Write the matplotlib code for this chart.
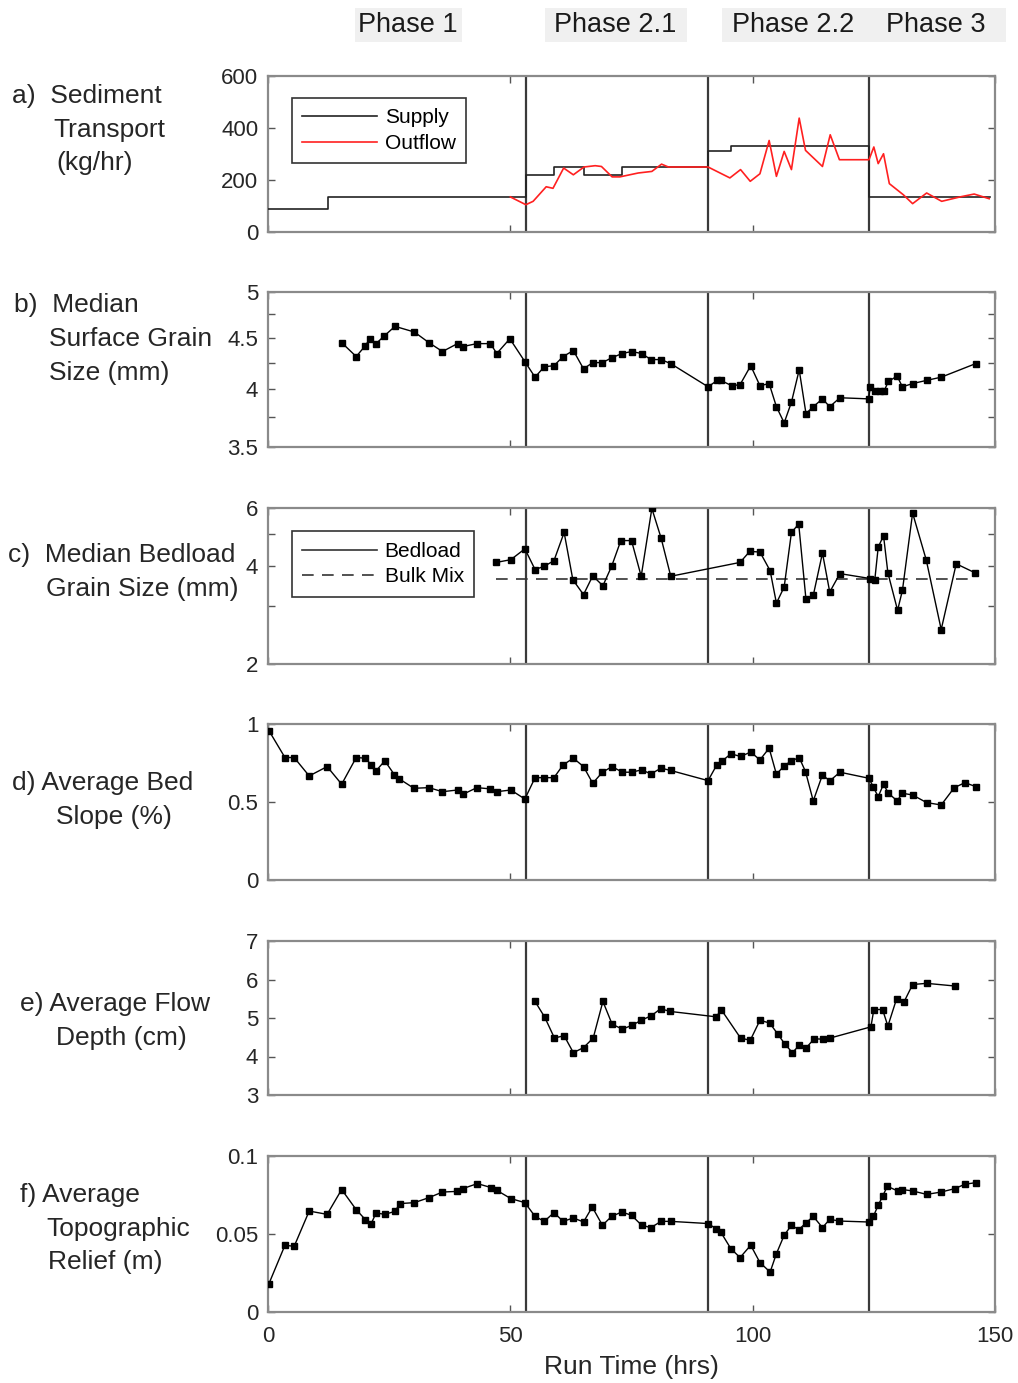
import matplotlib
matplotlib.use('Agg')
import matplotlib.pyplot as plt
from matplotlib.lines import Line2D
from matplotlib.patches import Rectangle
from matplotlib.ticker import FixedLocator, FixedFormatter, NullFormatter

plt.rcParams['font.family'] = ['Liberation Sans', 'DejaVu Sans']

# phase boundaries (hrs)
phase_bounds = [53.2, 90.8, 124.0]
phase_names = ['Phase 1', 'Phase 2.1', 'Phase 2.2', 'Phase 3']

# a) sediment transport
supply_t = [0, 12.3, 53.2, 59.1, 65.1, 73.1, 90.8, 95.5, 124.0, 149.0]
supply_v = [90, 135, 220, 250, 220, 250, 310, 330, 135, 135]
out_t = [50.0, 53.2, 54.7, 57.4, 58.8, 61.0, 63.0, 65.2, 67.5, 68.8,
         71.0, 72.6, 76.4, 79.2, 81.2, 82.6, 90.8, 95.3, 97.5, 99.5,
         101.5, 103.4, 104.9, 106.5, 108.0, 109.6, 110.9, 114.4, 116.0, 117.9,
         124.0, 125.0, 125.9, 127.0, 128.2, 131.1, 133.0, 135.9, 139.0, 142.8,
         145.7, 148.8]
out_v = [135, 105, 118, 174, 168, 246, 220, 250, 255, 252,
         212, 212, 227, 233, 261, 250, 250, 208, 240, 195,
         224, 352, 214, 310, 240, 438, 314, 252, 374, 278,
         278, 327, 263, 301, 186, 143, 109, 150, 118, 135,
         146, 128]

# b) median surface grain size
b_t = [15.2, 18.2, 20.1, 21.0, 22.3, 24.0, 26.2, 30.2, 33.2, 36.0,
       39.1, 40.2, 43.1, 45.9, 47.2, 49.9, 53.0, 55.1, 57.0, 59.0,
       60.9, 63.0, 65.1, 67.0, 69.0, 71.0, 73.1, 75.0, 77.1, 79.0,
       81.1, 83.1, 90.8, 92.7, 93.4, 95.7, 97.4, 99.6, 101.5, 103.4,
       104.9, 106.5, 108.0, 109.6, 111.0, 112.5, 114.4, 115.9, 118.0, 123.9,
       124.3, 125.2, 126.3, 127.1, 128.0, 129.8, 130.9, 133.0, 135.9, 138.9,
       146.0]
b_v = [4.45, 4.31, 4.42, 4.49, 4.44, 4.52, 4.62, 4.56, 4.45, 4.36,
       4.44, 4.41, 4.44, 4.44, 4.34, 4.49, 4.26, 4.11, 4.21, 4.22,
       4.31, 4.37, 4.19, 4.25, 4.25, 4.30, 4.34, 4.36, 4.34, 4.28,
       4.28, 4.24, 4.02, 4.08, 4.08, 4.03, 4.04, 4.22, 4.03, 4.05,
       3.84, 3.70, 3.88, 4.18, 3.78, 3.84, 3.91, 3.84, 3.92, 3.91,
       4.02, 3.98, 3.98, 3.98, 4.07, 4.12, 4.02, 4.05, 4.08, 4.11,
       4.24]

# c) median bedload grain size
c_t = [47.1, 50.1, 53.0, 55.1, 57.0, 59.0, 61.1, 62.9, 65.1, 67.0,
       69.1, 70.9, 72.8, 75.0, 77.0, 79.2, 81.1, 83.1, 97.4, 99.4,
       101.5, 103.6, 104.9, 106.5, 108.0, 109.5, 111.0, 112.5, 114.4, 115.9,
       118.0, 124.3, 125.2, 125.9, 127.0, 127.9, 129.9, 130.9, 133.0, 135.8,
       138.9, 142.0, 145.9]
c_v = [4.09, 4.17, 4.50, 3.89, 3.98, 4.14, 5.05, 3.62, 3.26, 3.72,
       3.47, 3.98, 4.77, 4.77, 3.71, 5.98, 4.86, 3.71, 4.09, 4.42,
       4.40, 3.86, 3.07, 3.44, 5.05, 5.36, 3.15, 3.24, 4.37, 3.32,
       3.78, 3.65, 3.62, 4.55, 4.94, 3.80, 2.92, 3.36, 5.79, 4.17,
       2.55, 4.05, 3.80]
bulk_t = [47.0, 145.0]
bulk_v = [3.65, 3.65]

# d) average bed slope
d_t = [0.2, 3.5, 5.4, 8.5, 12.2, 15.2, 18.2, 20.1, 21.3, 22.3,
       24.1, 26.1, 27.1, 30.1, 33.2, 36.0, 39.1, 40.2, 43.1, 45.9,
       47.2, 50.1, 53.0, 55.1, 57.0, 59.0, 60.9, 63.0, 65.1, 67.0,
       69.0, 71.0, 73.1, 75.0, 77.1, 79.0, 81.1, 83.1, 90.8, 92.6,
       93.6, 95.5, 97.5, 99.6, 101.5, 103.4, 104.9, 106.5, 108.0, 109.6,
       110.9, 112.5, 114.4, 115.9, 118.0, 124.0, 124.9, 125.9, 127.0, 128.0,
       129.8, 130.9, 133.0, 135.9, 138.9, 141.6, 143.8, 146.0]
d_v = [0.957, 0.785, 0.785, 0.667, 0.727, 0.614, 0.785, 0.781, 0.738, 0.700,
       0.764, 0.674, 0.648, 0.588, 0.592, 0.566, 0.577, 0.549, 0.592, 0.584,
       0.566, 0.577, 0.519, 0.656, 0.656, 0.656, 0.738, 0.781, 0.727, 0.620,
       0.691, 0.727, 0.691, 0.691, 0.706, 0.680, 0.717, 0.702, 0.637, 0.738,
       0.760, 0.809, 0.792, 0.820, 0.770, 0.845, 0.678, 0.732, 0.764, 0.785,
       0.695, 0.507, 0.674, 0.635, 0.691, 0.652, 0.595, 0.534, 0.614, 0.556,
       0.508, 0.556, 0.545, 0.496, 0.481, 0.592, 0.624, 0.599]

# e) average flow depth
e_t = [55.0, 57.1, 59.1, 61.1, 63.0, 65.1, 67.1, 69.1, 71.0, 73.1,
       75.1, 77.0, 79.1, 81.0, 83.0, 92.5, 93.5, 97.5, 99.5, 101.5,
       103.5, 105.2, 106.6, 108.2, 109.6, 111.0, 112.7, 114.5, 116.0, 124.4,
       125.0, 126.8, 127.9, 129.7, 131.2, 133.0, 135.9, 141.8]
e_v = [5.45, 5.02, 4.48, 4.54, 4.10, 4.23, 4.48, 5.43, 4.84, 4.71,
       4.81, 4.94, 5.06, 5.24, 5.17, 5.03, 5.22, 4.48, 4.42, 4.94,
       4.87, 4.58, 4.33, 4.10, 4.29, 4.22, 4.46, 4.45, 4.48, 4.77,
       5.22, 5.22, 4.79, 5.50, 5.41, 5.87, 5.90, 5.83]

# f) average topographic relief
f_t = [0.2, 3.5, 5.4, 8.5, 12.2, 15.2, 18.2, 20.1, 21.3, 22.3,
       24.1, 26.2, 27.2, 30.2, 33.2, 36.0, 38.9, 40.2, 43.2, 46.1,
       47.2, 50.1, 53.0, 55.1, 57.0, 59.0, 60.9, 63.0, 65.1, 66.9,
       69.0, 70.9, 73.0, 75.0, 77.1, 79.0, 81.1, 83.1, 90.8, 92.4,
       93.4, 95.5, 97.4, 99.6, 101.5, 103.6, 104.9, 106.5, 108.0, 109.5,
       111.0, 112.5, 114.4, 115.9, 117.9, 123.9, 124.9, 125.9, 126.8, 127.8,
       129.9, 130.9, 133.0, 135.9, 138.9, 141.7, 143.8, 146.0]
f_v = [0.0182, 0.0428, 0.0421, 0.0647, 0.0626, 0.0785, 0.0656, 0.0592, 0.0567, 0.0635,
       0.0626, 0.0645, 0.0695, 0.0701, 0.0733, 0.0769, 0.0773, 0.0791, 0.0823, 0.0797,
       0.0780, 0.0727, 0.0701, 0.0613, 0.0581, 0.0637, 0.0581, 0.0603, 0.0577, 0.0673,
       0.0556, 0.0613, 0.0641, 0.0620, 0.0556, 0.0541, 0.0581, 0.0581, 0.0567, 0.0535,
       0.0513, 0.0406, 0.0349, 0.0428, 0.0317, 0.0256, 0.0374, 0.0492, 0.0556, 0.0528,
       0.0571, 0.0613, 0.0541, 0.0594, 0.0583, 0.0577, 0.0613, 0.0684, 0.0742, 0.0806,
       0.0776, 0.0785, 0.0776, 0.0754, 0.0769, 0.0791, 0.0819, 0.0829]

W, H = 1018, 1383
fig = plt.figure(figsize=(W / 100, H / 100), dpi=100)

def make_axes(top, bottom):
    ax = fig.add_axes([268 / W, 1 - bottom / H, 727 / W, (bottom - top) / H])
    ax.set_xlim(0, 150)
    ax.set_xticks([0, 50, 100, 150])
    for s in ax.spines.values():
        s.set_color('#8a8a8a')
        s.set_linewidth(1.6)
    ax.tick_params(which='both', direction='in', top=True, right=True,
                   length=5, width=1, color='#555555',
                   labelsize=16, labelcolor='#262626', pad=7)
    ax.tick_params(labelbottom=False)
    for xb in phase_bounds:
        ax.axvline(xb, color='#3a3a3a', lw=1.6, zorder=1)
    return ax

def add_legend(ax, handles, labels, top):
    leg = ax.legend(handles, labels, loc='upper left', bbox_to_anchor=(0.033, top),
                    borderaxespad=0, fontsize=15, handlelength=3.6, handletextpad=0.35,
                    fancybox=False, framealpha=1, edgecolor='#333333',
                    borderpad=0.5, labelspacing=0.32)
    leg.get_frame().set_linewidth(1.2)

mk = dict(color='k', lw=1, marker='s', ms=5, zorder=3)

# a
ax_a = make_axes(76, 232)
ax_a.step(supply_t, supply_v, where='post', color='#222222', lw=1.2, zorder=3)
ax_a.plot(out_t, out_v, color='#ff2020', lw=1.2, zorder=4)
ax_a.set_ylim(0, 600)
ax_a.set_yticks([0, 200, 400, 600])
add_legend(ax_a, [Line2D([], [], color='#222222', lw=1.2), Line2D([], [], color='#ff2020', lw=1.2)],
           ['Supply', 'Outflow'], 0.86)

# b (log scale)
ax_b = make_axes(292, 447)
ax_b.plot(b_t, b_v, **mk)
ax_b.set_yscale('log')
ax_b.set_ylim(3.5, 5)
ax_b.yaxis.set_major_locator(FixedLocator([3.5, 4, 4.5, 5]))
ax_b.yaxis.set_major_formatter(FixedFormatter(['3.5', '4', '4.5', '5']))
ax_b.yaxis.set_minor_locator(FixedLocator([3.75, 4.25, 4.75]))
ax_b.yaxis.set_minor_formatter(NullFormatter())

# c (log scale)
ax_c = make_axes(508, 664)
ax_c.plot(c_t, c_v, **mk)
ax_c.plot(bulk_t, bulk_v, color='#333333', lw=1.2, ls=(0, (7, 5)), zorder=2)
ax_c.set_yscale('log')
ax_c.set_ylim(2, 6)
ax_c.yaxis.set_major_locator(FixedLocator([2, 4, 6]))
ax_c.yaxis.set_major_formatter(FixedFormatter(['2', '4', '6']))
ax_c.yaxis.set_minor_locator(FixedLocator([3, 5]))
ax_c.yaxis.set_minor_formatter(NullFormatter())
add_legend(ax_c, [Line2D([], [], color='#333333', lw=1.2),
                  Line2D([], [], color='#333333', lw=1.2, ls=(0, (7, 5)))],
           ['Bedload', 'Bulk Mix'], 0.85)

# d
ax_d = make_axes(724, 880)
ax_d.plot(d_t, d_v, **mk)
ax_d.set_ylim(0, 1)
ax_d.set_yticks([0, 0.5, 1])
ax_d.set_yticklabels(['0', '0.5', '1'])

# e
ax_e = make_axes(941, 1095)
ax_e.plot(e_t, e_v, **mk)
ax_e.set_ylim(3, 7)
ax_e.set_yticks([3, 4, 5, 6, 7])

# f
ax_f = make_axes(1156, 1312)
ax_f.plot(f_t, f_v, **mk)
ax_f.set_ylim(0, 0.1)
ax_f.set_yticks([0, 0.05, 0.1])
ax_f.set_yticklabels(['0', '0.05', '0.1'])
ax_f.tick_params(labelbottom=True, pad=10)
ax_f.tick_params(axis='y', pad=7)
ax_f.set_xlabel('Run Time (hrs)', fontsize=19, color='#262626', labelpad=6)

# phase headers: grey boxes then text
boxes = [(355, 462), (545, 687), (722, 1006)]
for x0, x1 in boxes:
    fig.patches.append(Rectangle((x0 / W, 1 - 42 / H), (x1 - x0) / W, 34 / H,
                                 transform=fig.transFigure, facecolor='#f0f0f0',
                                 edgecolor='none', zorder=0))
phase_x = [408, 615, 793, 936]
for name, xp in zip(phase_names, phase_x):
    fig.text(xp / W, 1 - 25 / H, name, fontsize=19.5, ha='center', va='center', color='#1a1a1a')

# panel labels
labels = [
    (12, 96, 'a)  Sediment'), (53, 130, 'Transport'), (56, 163, '(kg/hr)'),
    (14, 305, 'b)  Median'), (49, 339, 'Surface Grain'), (49, 373, 'Size (mm)'),
    (8, 555, 'c)  Median Bedload'), (46, 589, 'Grain Size (mm)'),
    (12, 783, 'd) Average Bed'), (56, 817, 'Slope (%)'),
    (20, 1004, 'e) Average Flow'), (56, 1038, 'Depth (cm)'),
    (20, 1195, 'f) Average'), (46, 1229, 'Topographic'), (48, 1262, 'Relief (m)'),
]
for xp, yp, txt in labels:
    fig.text(xp / W, 1 - yp / H, txt, fontsize=19, ha='left', va='center', color='#262626')

plt.savefig('out.png', dpi=100)
